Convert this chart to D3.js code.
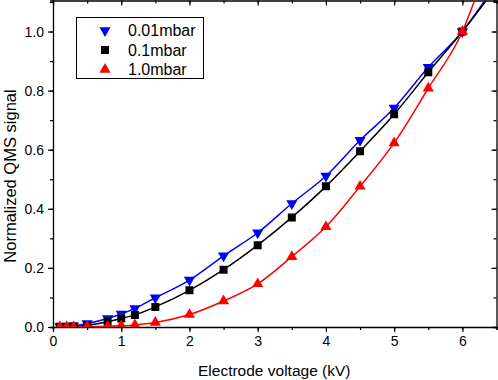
<!DOCTYPE html>
<html>
<head>
<meta charset="utf-8">
<script src="https://cdn.jsdelivr.net/npm/d3@7"></script>
<style>
  body { margin: 0; background: #fff; }
  svg text { font-family: "Liberation Sans", Arial, sans-serif; fill: #000; }
</style>
</head>
<body>
<div id="chart"></div>
<script>
// electrode voltage in kV
var voltage = [0.1, 0.2, 0.3, 0.5, 0.8, 1.0, 1.2, 1.5, 2, 2.5, 3, 3.5, 4, 4.5, 5, 5.5, 6];
var signal001 = [0.002, 0.003, 0.004, 0.012, 0.029, 0.044, 0.063, 0.099, 0.159, 0.241, 0.319, 0.418, 0.511, 0.632, 0.741, 0.879, 1.0];
var signal01 = [0.001, 0.001, 0.002, 0.006, 0.018, 0.029, 0.041, 0.068, 0.124, 0.194, 0.277, 0.371, 0.476, 0.595, 0.720, 0.862, 1.0];
var signal10 = [0, 0, 0, 0.001, 0.002, 0.004, 0.007, 0.015, 0.042, 0.088, 0.146, 0.238, 0.339, 0.476, 0.623, 0.808, 1.0];
// where each fit curve leaves the top of the frame
var fitEnd = [[6.33, 1.105], [6.35, 1.105], [6.18, 1.105]];
var seriesNames = ['0.01mbar', '0.1mbar', '1.0mbar'];
var seriesColors = ['#0000ff', '#000000', '#ff0000'];
var xTicks = [0, 1, 2, 3, 4, 5, 6];
var yTicks = [0, 0.2, 0.4, 0.6, 0.8, 1.0];

var width = 498, height = 380;
var plotLeft = 53, plotRight = 496.5, plotTop = 0.5, plotBottom = 327;

var svg = d3.select('#chart').append('svg')
    .attr('width', width)
    .attr('height', height);

var x = d3.scaleLinear().domain([0, 6.5]).range([plotLeft, plotRight]);
var y = d3.scaleLinear().domain([0, 1.105]).range([plotBottom, plotTop]);

svg.append('defs').append('clipPath').attr('id', 'plotClip')
    .append('rect').attr('x', plotLeft).attr('y', plotTop)
    .attr('width', plotRight - plotLeft).attr('height', plotBottom - plotTop);

var minorX = d3.range(0, 6.51, 0.5);
var minorY = d3.range(0, 1.101, 0.1);

function drawAxis(axisFn, scale, pos, minor, major, size, labels) {
    var g = svg.append('g').attr('transform', pos);
    g.call(axisFn(scale).tickValues(minor).tickSize(size * 0.6).tickFormat(''));
    var gm = svg.append('g').attr('transform', pos);
    gm.call(axisFn(scale).tickValues(major).tickSize(size).tickPadding(4).tickFormat(labels));
    gm.select('.domain').remove();
    [g, gm].forEach(function (a) {
        a.select('.domain').attr('stroke', '#000').attr('stroke-width', 1.3);
        a.selectAll('.tick line').attr('stroke', '#000').attr('stroke-width', 1.2);
        a.selectAll('.tick text').style('font-size', '14px')
            .style('font-family', '"Liberation Sans", Arial, sans-serif');
    });
}

drawAxis(d3.axisBottom, x, 'translate(0,' + plotBottom + ')', minorX, xTicks, 5, d3.format('d'));
drawAxis(d3.axisTop, x, 'translate(0,' + plotTop + ')', minorX, xTicks, -5, '');
drawAxis(d3.axisLeft, y, 'translate(' + plotLeft + ',0)', minorY, yTicks, 5, d3.format('.1f'));
drawAxis(d3.axisRight, y, 'translate(' + plotRight + ',0)', minorY, yTicks, -5, '');

var allSignals = [signal001, signal01, signal10];

var line = d3.line()
    .x(function (d) { return x(d[0]); })
    .y(function (d) { return y(d[1]); })
    .curve(d3.curveMonotoneX);

var plot = svg.append('g').attr('clip-path', 'url(#plotClip)');

allSignals.forEach(function (vals, i) {
    var pts = voltage.map(function (v, j) { return [v, vals[j]]; });
    plot.append('path')
        .datum(pts.concat([fitEnd[i]]))
        .attr('fill', 'none')
        .attr('stroke', seriesColors[i])
        .attr('stroke-width', 1.5)
        .attr('d', line);
});

var shapes = [
    d3.symbol().type(d3.symbolTriangle).size(54),
    d3.symbol().type(d3.symbolSquare).size(64),
    d3.symbol().type(d3.symbolTriangle).size(54)
];
var rotations = [180, 0, 0];

allSignals.forEach(function (vals, i) {
    plot.selectAll('.pt' + i)
        .data(voltage.map(function (v, j) { return [v, vals[j]]; }))
        .enter().append('path')
        .attr('class', 'pt' + i)
        .attr('d', shapes[i])
        .attr('fill', seriesColors[i])
        .attr('transform', function (d) {
            return 'translate(' + x(d[0]) + ',' + y(d[1]) + ') rotate(' + rotations[i] + ')';
        });
});

// legend
var legend = svg.append('g').attr('transform', 'translate(76.5,17.5)');
legend.append('rect')
    .attr('width', 127).attr('height', 61)
    .attr('fill', '#fff').attr('stroke', '#000').attr('stroke-width', 1);
seriesNames.forEach(function (name, i) {
    var row = legend.append('g').attr('transform', 'translate(0,' + (13 + i * 19.5) + ')');
    row.append('path')
        .attr('d', shapes[i])
        .attr('fill', seriesColors[i])
        .attr('transform', 'translate(28.5,0) rotate(' + rotations[i] + ')');
    row.append('text')
        .attr('x', 51.5).attr('y', 5.5)
        .style('font-size', '16px')
        .text(name);
});

svg.append('text')
    .attr('x', (plotLeft + plotRight) / 2 - 0.5)
    .attr('y', 376)
    .attr('text-anchor', 'middle')
    .style('font-size', '15.5px')
    .text('Electrode voltage (kV)');

svg.append('text')
    .attr('transform', 'translate(16,176) rotate(-90)')
    .attr('text-anchor', 'middle')
    .style('font-size', '16.5px')
    .text('Normalized QMS signal');
</script>
</body>
</html>
